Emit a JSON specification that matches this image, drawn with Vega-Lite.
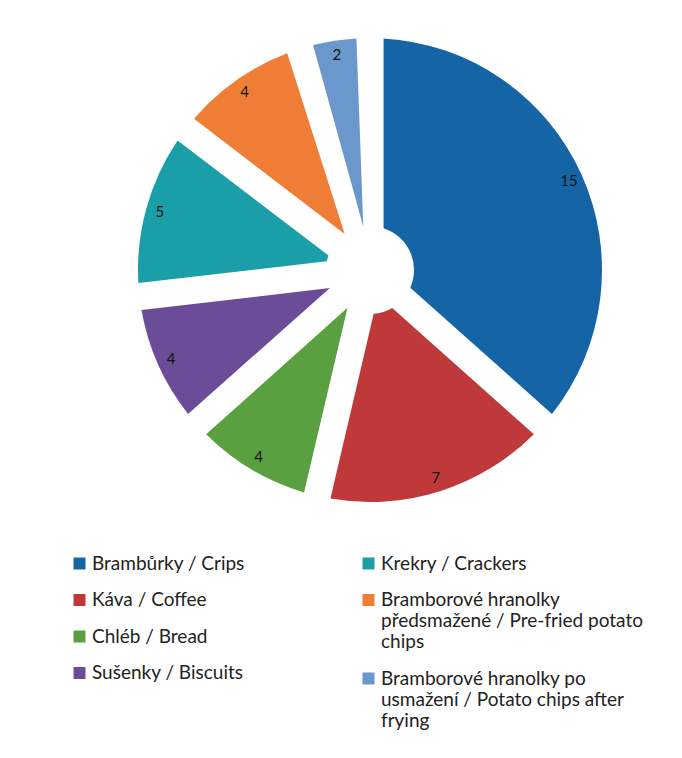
{
  "$schema": "https://vega.github.io/schema/vega-lite/v6.json",
  "autosize": {"type": "none"},
  "width": 460,
  "height": 464,
  "padding": {"left": 140, "top": 38, "right": 82, "bottom": 256},
  "background": "white",
  "config": {"view": {"stroke": null}, "font": "Lato"},
  "data": {
    "values": [
      {"idx": 1, "grp": "L", "name": "Brambůrky / Crips", "value": 15},
      {"idx": 2, "grp": "L", "name": "Káva / Coffee", "value": 7},
      {"idx": 3, "grp": "L", "name": "Chléb / Bread", "value": 4},
      {"idx": 4, "grp": "L", "name": "Sušenky / Biscuits", "value": 4},
      {"idx": 5, "grp": "R", "name": "Krekry / Crackers", "value": 5},
      {"idx": 6, "grp": "R", "name": "Bramborové hranolky předsmažené / Pre-fried potato chips", "value": 4},
      {"idx": 7, "grp": "R", "name": "Bramborové hranolky po usmažení / Potato chips after frying", "value": 2}
    ]
  },
  "layer": [
    {
      "transform": [
        {"stack": "value", "groupby": [], "sort": [{"field": "idx", "order": "ascending"}], "as": ["s0", "s1"]},
        {"filter": "datum.grp == 'L'"}
      ],
      "mark": {"type": "arc", "outerRadius": 232, "innerRadius": 44, "padAngle": 0.115},
      "encoding": {
        "theta": {"field": "s0", "type": "quantitative", "scale": {"domain": [0, 41]}},
        "theta2": {"field": "s1"},
        "color": {
          "field": "name",
          "type": "nominal",
          "scale": {
            "domain": ["Brambůrky / Crips", "Káva / Coffee", "Chléb / Bread", "Sušenky / Biscuits"],
            "range": ["#1565A6", "#C0393A", "#5BA040", "#6A4C98"]
          },
          "legend": {
            "title": null,
            "orient": "none",
            "legendX": -70,
            "legendY": 516,
            "symbolType": "square",
            "symbolSize": 144,
            "symbolStrokeWidth": 0,
            "labelFontSize": 19,
            "labelFont": "Lato",
            "labelColor": "#222222",
            "labelOffset": 3,
            "labelLimit": 400,
            "rowPadding": 16.5
          }
        }
      }
    },
    {
      "transform": [
        {"stack": "value", "groupby": [], "sort": [{"field": "idx", "order": "ascending"}], "as": ["s0", "s1"]},
        {"filter": "datum.grp == 'R'"}
      ],
      "mark": {"type": "arc", "outerRadius": 232, "innerRadius": 44, "padAngle": 0.115},
      "encoding": {
        "theta": {"field": "s0", "type": "quantitative", "scale": {"domain": [0, 41]}},
        "theta2": {"field": "s1"},
        "color": {
          "field": "name",
          "type": "nominal",
          "scale": {
            "domain": ["Krekry / Crackers", "Bramborové hranolky předsmažené / Pre-fried potato chips", "Bramborové hranolky po usmažení / Potato chips after frying"],
            "range": ["#1A9FA8", "#F07D35", "#6A98CC"]
          },
          "legend": {
            "title": null,
            "orient": "none",
            "legendX": 219,
            "legendY": 516,
            "symbolType": "square",
            "symbolSize": 144,
            "symbolStrokeWidth": 0,
            "labelFontSize": 19,
            "labelFont": "Lato",
            "labelColor": "#222222",
            "labelOffset": 3,
            "labelLimit": 400,
            "rowPadding": 16.5,
            "labelExpr": "datum.label == 'Bramborové hranolky předsmažené / Pre-fried potato chips' ? ['Bramborové hranolky', 'předsmažené / Pre-fried potato', 'chips'] : datum.label == 'Bramborové hranolky po usmažení / Potato chips after frying' ? ['Bramborové hranolky po', 'usmažení / Potato chips after', 'frying'] : datum.label"
          }
        }
      }
    },
    {
      "mark": {"type": "text", "radius": 218, "fontSize": 15, "font": "Lato", "color": "#111111"},
      "encoding": {
        "theta": {"field": "value", "type": "quantitative", "stack": true, "scale": {"domain": [0, 41]}},
        "order": {"field": "idx", "type": "quantitative"},
        "text": {"field": "value", "type": "quantitative"}
      }
    }
  ],
  "resolve": {"scale": {"color": "independent"}}
}
